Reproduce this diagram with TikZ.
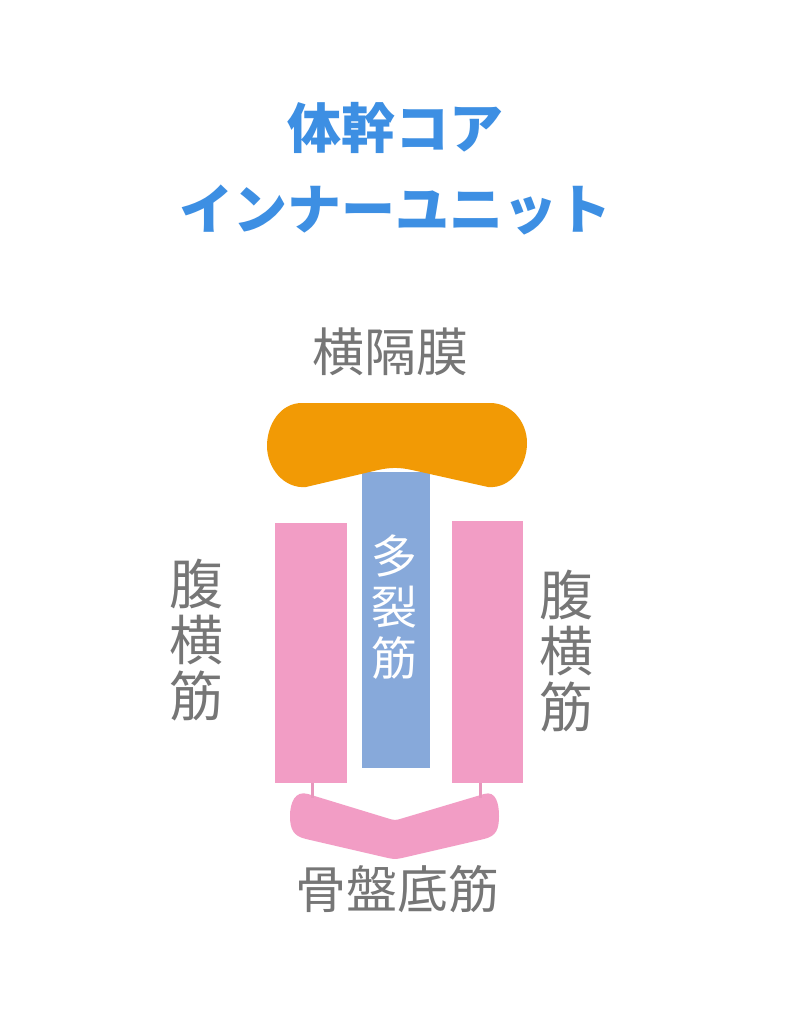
\documentclass[tikz,border=0pt]{standalone}
\usepackage{fontspec}
\usepackage{xcolor}
\newfontfamily\cjk{Noto Sans CJK JP}
\usetikzlibrary{positioning}
\definecolor{titleblue}{HTML}{3D8FE3}
\definecolor{labelgray}{HTML}{767676}
\definecolor{diaorange}{HTML}{F29A05}
\definecolor{mfblue}{HTML}{87A9DA}
\definecolor{tvapink}{HTML}{F29DC5}
\definecolor{tendonpink}{HTML}{E896BC}
\tikzset{
      titletext/.style = {text=titleblue, font=\cjk\bfseries\fontsize{54}{80}\selectfont, inner sep=0pt},
      labeltext/.style = {text=labelgray, font=\cjk\fontsize{52}{56}\selectfont, inner sep=0pt, align=center},
      muscle/.style    = {rectangle, inner sep=0pt, draw=none},
      tendon/.style    = {tendonpink, line width=3pt},
    }

\begin{document}
\begin{tikzpicture}[x=1pt,y=-1pt]
        \useasboundingbox[fill=white] (0,0) rectangle (784,1024);
        % title
        \node[titletext] (title1) at (395,128) {体幹コア};
        \node[titletext] (title2) at (395,210) {インナーユニット};
        \node[labeltext] (dia) at (390,352) {横隔膜};

        % muscles
        \node[muscle, fill=mfblue, minimum width=68pt, minimum height=296pt] (mf) at (396,620) {};
        \node[muscle, fill=tvapink, minimum width=72pt, minimum height=260pt] (ltva) at (311,653) {};
        \node[muscle, fill=tvapink, minimum width=71pt, minimum height=262pt] (rtva) at (487.5,652) {};

        \fill[diaorange] (302,403) -- (490,403) to[out=0,in=90] (527,443)
            to[out=-90,in=-5] (488,487) -- (412,470) to[out=168,in=12] (378,470)
            -- (306,487) to[out=185,in=-90] (267,446) to[out=90,in=180] (302,403) -- cycle;
        \fill[tvapink] (308,794) -- (390,819) to[out=-17,in=197] (400,819) -- (484,794)
            to[out=17,in=90,looseness=1.2] (499,816) to[out=-90,in=13,looseness=1.2] (484,839)
            -- (402,858) to[out=193,in=-13] (388,858)
            -- (306,839) to[out=167,in=-90,looseness=1.2] (290,816) to[out=90,in=163,looseness=1.2] (308,794) -- cycle;

        \coordinate (pfl) at (312,798);
        \coordinate (pfr) at (480,798);
        \draw[tendon] (ltva.south -| pfl) -- (pfl);
        \draw[tendon] (rtva.south -| pfr) -- (pfr);

        % labels
        \node[labeltext, font=\cjk\fontsize{54}{56}\selectfont] (ltvalabel) at (196,640) {腹\\横\\筋};
        \node[labeltext, font=\cjk\fontsize{54}{56}\selectfont] (rtvalabel) at (566,651) {腹\\横\\筋};
        \node[labeltext, text=white, font=\cjk\fontsize{46}{51}\selectfont] (mflabel) at (394,607) {多\\裂\\筋};
        \node[labeltext, font=\cjk\fontsize{51}{56}\selectfont] (pflabel) at (397,889) {骨盤底筋};
\end{tikzpicture}
\end{document}
